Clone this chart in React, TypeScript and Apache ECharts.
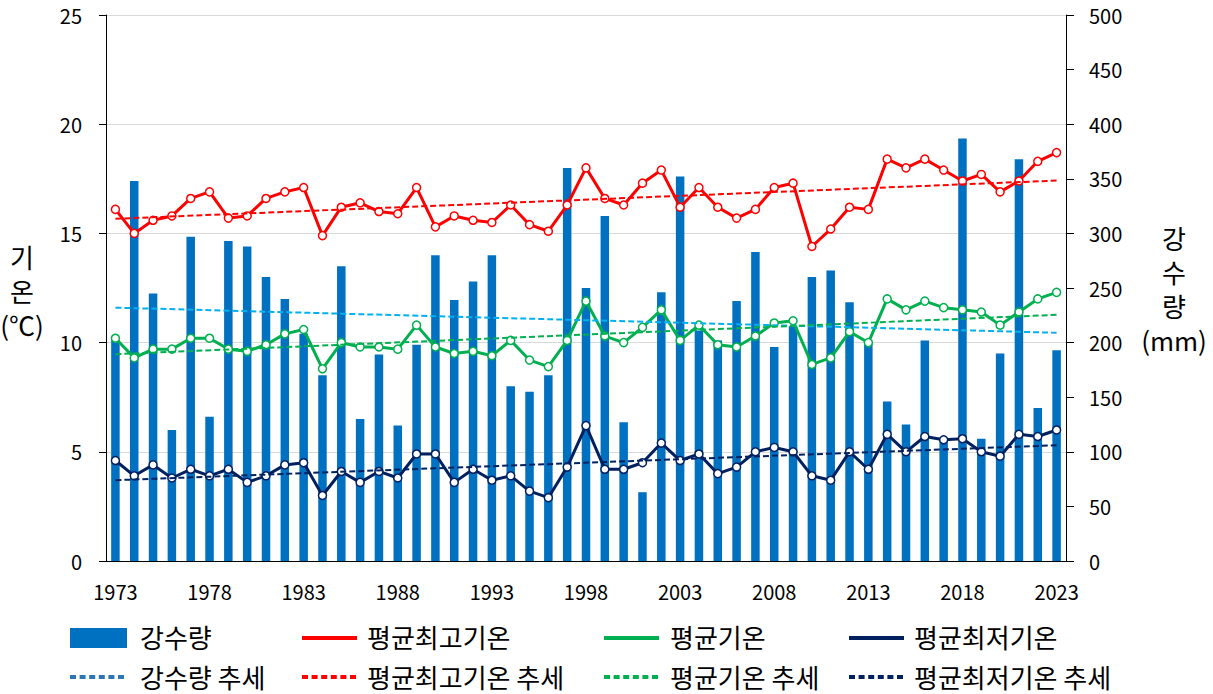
import React, { useEffect, useRef } from "react";
import * as echarts from "echarts";

const years = [
  "1973", "1974", "1975", "1976", "1977", "1978", "1979", "1980", "1981", "1982",
  "1983", "1984", "1985", "1986", "1987", "1988", "1989", "1990", "1991", "1992",
  "1993", "1994", "1995", "1996", "1997", "1998", "1999", "2000", "2001", "2002",
  "2003", "2004", "2005", "2006", "2007", "2008", "2009", "2010", "2011", "2012",
  "2013", "2014", "2015", "2016", "2017", "2018", "2019", "2020", "2021", "2022",
  "2023",
];

// 강수량 (mm)
const precipitation = [
  202, 348, 245, 120, 297, 132, 293, 288, 260, 240,
  208, 170, 270, 130, 189, 124, 198, 280, 239, 256,
  280, 160, 155, 170, 360, 250, 316, 127, 63, 246,
  352, 211, 202, 238, 283, 196, 215, 260, 266, 237,
  200, 146, 125, 202, 110, 387, 112, 190, 368, 140,
  193,
];

// 평균최고기온 (℃)
const maxTemp = [
  16.1, 15.0, 15.6, 15.8, 16.6, 16.9, 15.7, 15.8, 16.6, 16.9,
  17.1, 14.9, 16.2, 16.4, 16.0, 15.9, 17.1, 15.3, 15.8, 15.6,
  15.5, 16.3, 15.4, 15.1, 16.3, 18.0, 16.6, 16.3, 17.3, 17.9,
  16.2, 17.1, 16.2, 15.7, 16.1, 17.1, 17.3, 14.4, 15.2, 16.2,
  16.1, 18.4, 18.0, 18.4, 17.9, 17.4, 17.7, 16.9, 17.4, 18.3,
  18.7,
];

// 평균기온 (℃)
const meanTemp = [
  10.2, 9.3, 9.7, 9.7, 10.2, 10.2, 9.7, 9.6, 9.9, 10.4,
  10.6, 8.8, 10.0, 9.8, 9.8, 9.7, 10.8, 9.8, 9.5, 9.6,
  9.4, 10.1, 9.2, 8.9, 10.1, 11.9, 10.3, 10.0, 10.7, 11.5,
  10.1, 10.8, 9.9, 9.8, 10.3, 10.9, 11.0, 9.0, 9.3, 10.5,
  10.0, 12.0, 11.5, 11.9, 11.6, 11.5, 11.4, 10.8, 11.4, 12.0,
  12.3,
];

// 평균최저기온 (℃)
const minTemp = [
  4.6, 3.9, 4.4, 3.8, 4.2, 3.9, 4.2, 3.6, 3.9, 4.4,
  4.5, 3.0, 4.1, 3.6, 4.1, 3.8, 4.9, 4.9, 3.6, 4.2,
  3.7, 3.9, 3.2, 2.9, 4.3, 6.2, 4.2, 4.2, 4.5, 5.4,
  4.6, 4.9, 4.0, 4.3, 5.0, 5.2, 5.0, 3.9, 3.7, 5.0,
  4.2, 5.8, 5.0, 5.7, 5.55, 5.6, 5.0, 4.8, 5.8, 5.7,
  6.0,
];

// Trend line values at the first and last year
const precipTrend = [232, 209];
const maxTrend = [15.67, 17.42];
const meanTrend = [9.47, 11.27];
const minTrend = [3.7, 5.3];

const legendRow1 = ["강수량", "평균최고기온", "평균기온", "평균최저기온"];
const legendRow2 = ["강수량 추세", "평균최고기온 추세", "평균기온 추세", "평균최저기온 추세"];
const leftTitle = "기\n온\n(℃)";
const rightTitle = "강\n수\n량\n(mm)";

const FONT = "'Noto Sans CJK KR', 'Noto Sans', sans-serif";
const C_BAR = "#0070C0";
const C_MAX = "#FF0000";
const C_MEAN = "#00B050";
const C_MIN = "#002060";
const C_PTREND = "#00B0F0";
const C_PTREND_LEG = "#2E75B6";

function trendData(v: number[]) {
  return [
    [years[0], v[0]],
    [years[years.length - 1], v[1]],
  ];
}

function mainLine(name: string, data: number[], color: string) {
  return {
    name,
    type: "line",
    yAxisIndex: 0,
    data,
    symbol: "circle",
    symbolSize: 8,
    z: 3,
    lineStyle: { color, width: 3 },
    itemStyle: { color: "#ffffff", borderColor: color, borderWidth: 1.5 },
  };
}

function trendLine(name: string, v: number[], color: string, axis: number) {
  return {
    name,
    type: "line",
    yAxisIndex: axis,
    data: trendData(v),
    symbol: "none",
    z: 4,
    lineStyle: { color, width: 2, type: [6, 3] },
  };
}

export default function App() {
  const ref = useRef<HTMLDivElement>(null);

  useEffect(() => {
    if (!ref.current) return;
    const chart = echarts.init(ref.current, undefined, { renderer: "svg" });

    const legendIconX = [70, 302, 604, 849];
    const legendTextX = [140, 367, 670, 914];
    const row1Y = 638;
    const row2Y = 677;
    const lineColors = [C_BAR, C_MAX, C_MEAN, C_MIN];
    const trendColors = [C_PTREND_LEG, C_MAX, C_MEAN, C_MIN];
    const legendFont = 26;

    const graphic: any[] = [];
    legendRow1.forEach((name, i) => {
      if (i === 0) {
        graphic.push({
          type: "rect",
          shape: { x: legendIconX[i], y: row1Y - 10, width: 57, height: 20 },
          style: { fill: lineColors[i] },
        });
      } else {
        graphic.push({
          type: "line",
          shape: { x1: legendIconX[i], y1: row1Y, x2: legendIconX[i] + 55, y2: row1Y },
          style: { stroke: lineColors[i], lineWidth: 4 },
        });
      }
      graphic.push({
        type: "text",
        x: legendTextX[i],
        y: row1Y - 2,
        style: {
          text: name,
          fontSize: legendFont,
          lineHeight: legendFont,
          fontFamily: FONT,
          fill: "#000",
          align: "left",
          verticalAlign: "middle",
        },
      });
    });
    legendRow2.forEach((name, i) => {
      graphic.push({
        type: "line",
        shape: { x1: legendIconX[i], y1: row2Y, x2: legendIconX[i] + 56, y2: row2Y },
        style: { stroke: trendColors[i], lineWidth: 4, lineDash: [6, 3.6] },
      });
      graphic.push({
        type: "text",
        x: legendTextX[i],
        y: row2Y - 1,
        style: {
          text: name,
          fontSize: legendFont,
          lineHeight: legendFont,
          fontFamily: FONT,
          fill: "#000",
          align: "left",
          verticalAlign: "middle",
        },
      });
    });
    graphic.push({
      type: "text",
      x: 22,
      y: 239,
      style: {
        text: leftTitle,
        fontSize: 26,
        lineHeight: 34,
        fontFamily: FONT,
        fill: "#000",
        align: "center",
        verticalAlign: "top",
      },
    });
    graphic.push({
      type: "text",
      x: 1174,
      y: 220,
      style: {
        text: rightTitle,
        fontSize: 26,
        lineHeight: 34,
        fontFamily: FONT,
        fill: "#000",
        align: "center",
        verticalAlign: "top",
      },
    });

    const axisLabel = { color: "#000", fontSize: 20, fontFamily: FONT };

    chart.setOption({
      animation: false,
      backgroundColor: "#ffffff",
      textStyle: { fontFamily: FONT },
      grid: { left: 106, right: 147, top: 15, bottom: 133, containLabel: false },
      xAxis: {
        type: "category",
        data: years,
        boundaryGap: true,
        axisLine: { lineStyle: { color: "#000", width: 1 } },
        axisTick: { interval: 4, length: 7, lineStyle: { color: "#000" } },
        axisLabel: { ...axisLabel, interval: 4, margin: 20 },
        splitLine: { show: false },
      },
      yAxis: [
        {
          type: "value",
          min: 0,
          max: 25,
          interval: 5,
          position: "left",
          axisLine: { show: true, lineStyle: { color: "#000", width: 1 } },
          axisTick: { show: true, length: 7, lineStyle: { color: "#000" } },
          axisLabel: { ...axisLabel, margin: 24 },
          splitLine: { show: true, lineStyle: { color: "#D9D9D9", width: 1 } },
        },
        {
          type: "value",
          min: 0,
          max: 500,
          interval: 50,
          position: "right",
          axisLine: { show: true, lineStyle: { color: "#000", width: 1 } },
          axisTick: { show: true, length: 8, lineStyle: { color: "#000" } },
          axisLabel: { ...axisLabel, margin: 23 },
          splitLine: { show: false },
        },
      ],
      series: [
        {
          name: "강수량",
          type: "bar",
          yAxisIndex: 1,
          data: precipitation,
          barWidth: 8.5,
          z: 2,
          itemStyle: { color: C_BAR },
        },
        mainLine("평균최고기온", maxTemp, C_MAX),
        mainLine("평균기온", meanTemp, C_MEAN),
        mainLine("평균최저기온", minTemp, C_MIN),
        trendLine("강수량 추세", precipTrend, C_PTREND, 1),
        trendLine("평균최고기온 추세", maxTrend, C_MAX, 0),
        trendLine("평균기온 추세", meanTrend, C_MEAN, 0),
        trendLine("평균최저기온 추세", minTrend, C_MIN, 0),
      ],
      graphic,
    });

    return () => chart.dispose();
  }, []);

  return (
    <div
      ref={ref}
      style={{ position: "fixed", left: 0, top: 0, width: 1213, height: 694, background: "#fff" }}
    />
  );
}
